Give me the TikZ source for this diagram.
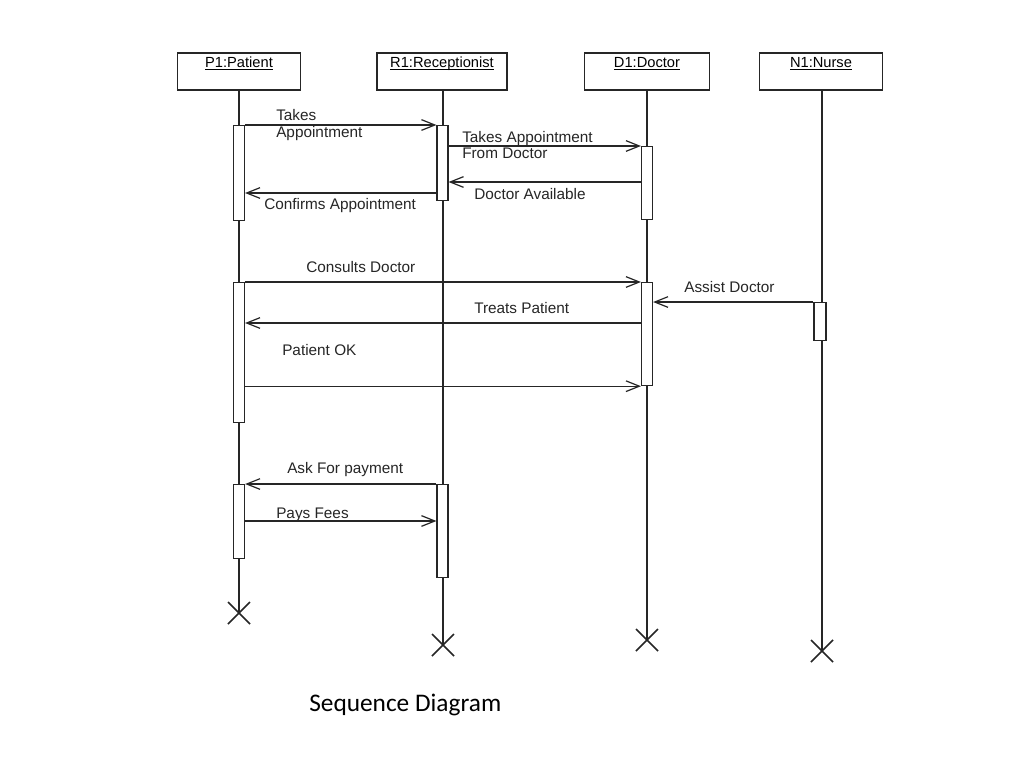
\documentclass[tikz,border=0pt]{standalone}
\usepackage{fontspec}
\setmainfont{Liberation Sans}
\newfontfamily\capfont{Carlito}
\usetikzlibrary{arrows.meta,calc}
\newcommand\hdul[1]{\underline{\smash{#1}}}
\begin{document}
\begin{tikzpicture}[x=0.75pt,y=-0.75pt,
  ln/.style={line width=0.9pt, draw=black!85},
  head/.style={ln, minimum width=#1, minimum height=27.75pt, inner sep=0pt},
  hl/.style={font=\fontsize{11}{13}\selectfont, inner sep=0pt, anchor=base},
  act/.style={ln, fill=white, minimum width=#1, inner sep=0pt, anchor=north},
  act/.default=8.25pt,
  msg/.style={ln, -{Straight Barb[length=10pt,width=8pt,line width=0.9pt]}},
  lbl/.style={font=\fontsize{11.5}{13}\selectfont, inner sep=0pt, anchor=base west, text=black!85},
  xmark/.style={ln, line width=1.2pt}
]
\fill[white] (0,0) rectangle (1024,768);
\useasboundingbox (0,0) rectangle (1024,768);

% headers
\node[head=92.25pt] (P) at (239,71.5) {};
\node[head=97.5pt]  (R) at (442,71.5) {};
\node[head=93.75pt] (D) at (647,71.5) {};
\node[head=92.25pt] (N) at (821,71.5) {};
\node[hl] (Pl) at (239,67) {\hdul{P1:Patient}};
\node[hl] (Rl) at (442,67) {\hdul{R1:Receptionist}};
\node[hl] (Dl) at (647,67) {\hdul{D1:Doctor}};
\node[hl] (Nl) at (821,67) {\hdul{N1:Nurse}};

% destruction points
\coordinate (Px) at (239,613);
\coordinate (Rx) at (443,645);
\coordinate (Dx) at (647,640);
\coordinate (Nx) at (822,651);

% lifelines
\draw[ln] (P.south) -- (Px);
\draw[ln] (R.south -| Rx) -- (Rx);
\draw[ln] (D.south) -- (Dx);
\draw[ln] (N.south -| Nx) -- (Nx);

\foreach \c in {Px,Rx,Dx,Nx}{
  \draw[xmark] ($(\c)+(-11,-11)$) -- ($(\c)+(11,11)$);
  \draw[xmark] ($(\c)+(-11,11)$) -- ($(\c)+(11,-11)$);
}

% activations
\node[act, minimum height=71.25pt] (pa1) at (239,125) {};
\node[act, minimum height=56.25pt] (ra1) at (442.5,125) {};
\node[act, minimum height=54.75pt] (da1) at (647,146) {};
\node[act, minimum height=105pt]   (pa2) at (239,282) {};
\node[act, minimum height=77.25pt] (da2) at (647,282) {};
\node[act=9pt, minimum height=28.5pt] (na1) at (820,302) {};
\node[act, minimum height=55.5pt]  (pa3) at (239,484) {};
\node[act, minimum height=69.75pt] (ra2) at (442.5,484) {};

% message y positions
\coordinate (m3) at (0,182);
\coordinate (m4) at (0,193);
\coordinate (m7) at (0,323);
\coordinate (m10) at (0,521);

% messages
\draw[msg] (pa1.north east) -- (ra1.north west);
\draw[msg] (ra1.east |- da1.north) -- (da1.north west);
\draw[msg] (da1.west |- m3) -- (ra1.east |- m3);
\draw[msg] (ra1.west |- m4) -- (pa1.east |- m4);
\draw[msg] (pa2.north east) -- (da2.north west);
\draw[msg] (na1.north west) -- (da2.east |- na1.north);
\draw[msg] (da2.west |- m7) -- (pa2.east |- m7);
\draw[msg] (pa2.east |- da2.south) -- (da2.south west);
\draw[msg] (ra2.north west) -- (pa3.north east);
\draw[msg] (pa3.east |- m10) -- (ra2.west |- m10);

% labels
\node[lbl] (l1a) at (276,120) {Takes};
\node[lbl] (l1b) at (276,137) {Appointment};
\node[lbl] (l2a) at (462,142) {Takes Appointment};
\node[lbl] (l2b) at (462,158) {From Doctor};
\node[lbl] (l3) at (474,199) {Doctor Available};
\node[lbl] (l4) at (264,209) {Confirms Appointment};
\node[lbl] (l5) at (306,272) {Consults Doctor};
\node[lbl] (l6) at (684,292) {Assist Doctor};
\node[lbl] (l7) at (474,313) {Treats Patient};
\node[lbl] (l8) at (282,355) {Patient OK};
\node[lbl] (l9) at (287,473) {Ask For payment};
\node[lbl] (l10) at (276,518) {Pays Fees};

% caption
\node[anchor=base west, inner sep=0pt, font=\capfont\fontsize{19}{23}\selectfont] (cap) at (309,711) {Sequence Diagram};
\end{tikzpicture}
\end{document}
